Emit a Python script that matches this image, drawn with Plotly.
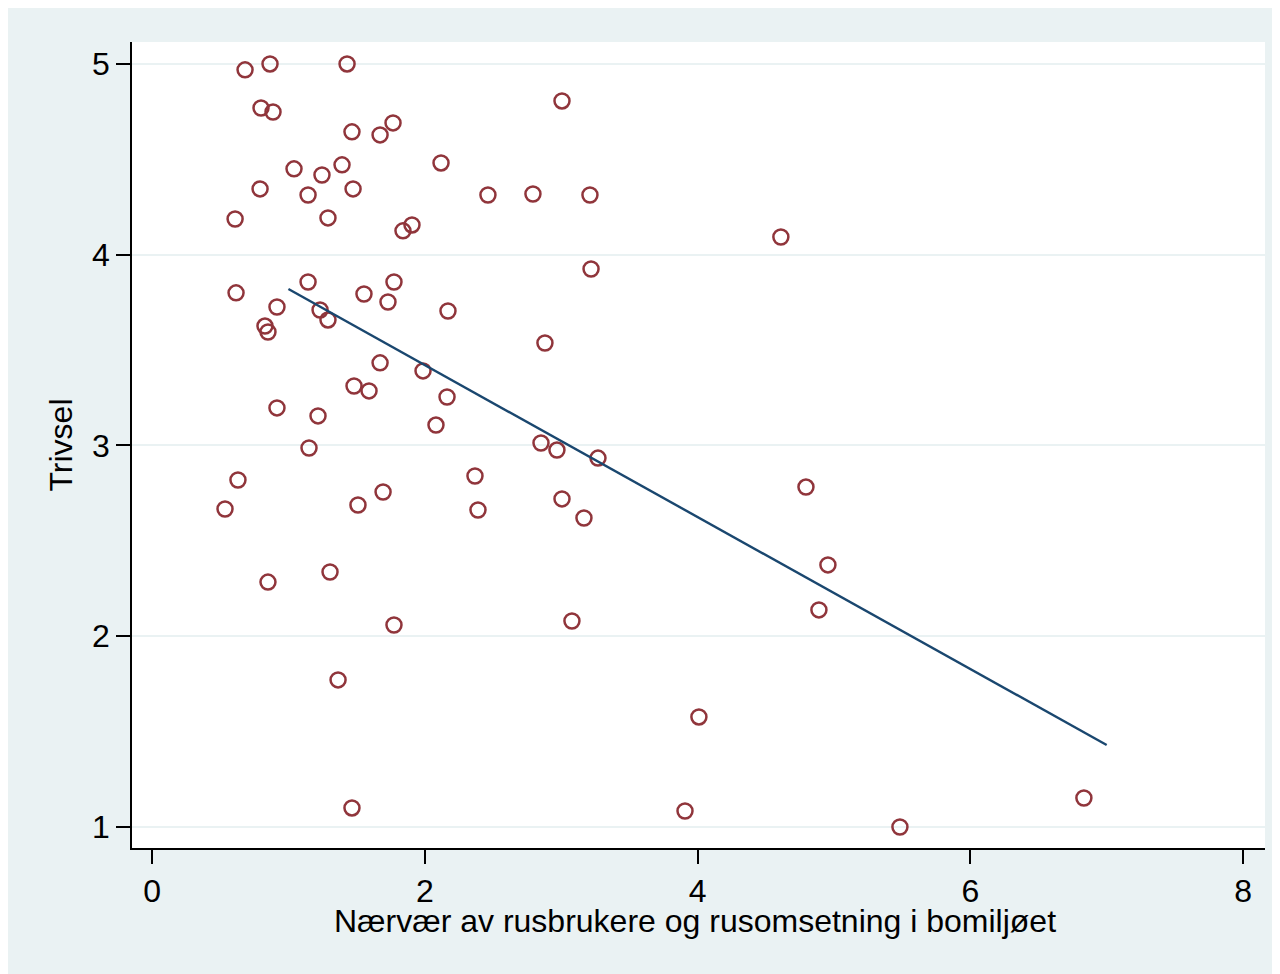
import plotly.graph_objects as go

# Scatter data: presence of drug users/dealing (x) vs wellbeing (y)
naervaer = [0.682, 0.865, 1.430, 0.799, 0.887, 3.006, 1.466, 1.672, 1.767, 2.119,
            1.041, 1.246, 1.393, 0.792, 1.144, 1.474, 2.463, 2.793, 3.211, 0.609,
            1.290, 1.840, 1.906, 4.611, 3.219, 1.144, 1.774, 0.616, 1.554, 1.730,
            0.916, 1.232, 2.170, 0.828, 0.850, 1.290, 2.881, 1.672, 1.987, 1.481,
            1.591, 2.163, 0.916, 1.217, 2.082, 1.151, 2.852, 2.969, 3.270, 0.630,
            2.368, 0.535, 1.694, 1.510, 2.390, 3.006, 3.167, 4.795, 4.956, 4.890,
            0.850, 1.305, 1.774, 3.079, 1.364, 4.010, 1.466, 3.908, 5.484, 6.833]
trivsel = [4.969, 5.000, 5.000, 4.769, 4.748, 4.806, 4.644, 4.628, 4.691, 4.481,
           4.450, 4.418, 4.471, 4.345, 4.313, 4.345, 4.313, 4.318, 4.313, 4.187,
           4.193, 4.125, 4.156, 4.093, 3.925, 3.857, 3.857, 3.800, 3.794, 3.752,
           3.726, 3.710, 3.705, 3.626, 3.595, 3.658, 3.537, 3.433, 3.391, 3.312,
           3.286, 3.254, 3.197, 3.155, 3.107, 2.987, 3.013, 2.976, 2.934, 2.819,
           2.840, 2.667, 2.756, 2.688, 2.662, 2.720, 2.620, 2.782, 2.374, 2.138,
           2.284, 2.337, 2.059, 2.080, 1.771, 1.577, 1.100, 1.084, 1.000, 1.152]

# Linear fit line
fit_x = [1.0, 7.0]
fit_y = [3.82, 1.43]

x_ticks = [0, 2, 4, 6, 8]
y_ticks = [1, 2, 3, 4, 5]

x_title = "Nærvær av rusbrukere og rusomsetning i bomiljøet"
y_title = "Trivsel"

BG = "#EAF2F3"
MAROON = "#90353B"
NAVY = "#1A476F"
FONT = "Liberation Sans"
FS = 32

fig = go.Figure()
fig.add_trace(go.Scatter(
    x=naervaer, y=trivsel, mode="markers",
    marker=dict(symbol="circle-open", size=15, color=MAROON,
                line=dict(width=2.5, color=MAROON)),
    showlegend=False, cliponaxis=False))
fig.add_trace(go.Scatter(
    x=fit_x, y=fit_y, mode="lines",
    line=dict(color=NAVY, width=2.4), showlegend=False))

fig.update_layout(
    width=1280, height=974,
    margin=dict(l=124, r=23, t=34, b=134, pad=0),
    paper_bgcolor=BG, plot_bgcolor="white",
    font=dict(family=FONT, size=FS, color="black"),
    xaxis=dict(range=[-0.147, 8.161], tickvals=x_ticks, ticks="outside",
               ticklen=14, tickwidth=1.5, tickcolor="black",
               showline=True, linecolor="black", linewidth=1.5, mirror=False,
               showgrid=False, zeroline=False,
               tickfont=dict(size=FS)),
    yaxis=dict(range=[0.890, 5.115], tickvals=y_ticks, ticks="outside",
               ticklen=14, tickwidth=1.5, tickcolor="black",
               showline=True, linecolor="black", linewidth=1.5, mirror=False,
               showgrid=True, gridcolor=BG, gridwidth=2, zeroline=False,
               title=dict(text=y_title, font=dict(size=FS), standoff=10),
               tickfont=dict(size=FS)),
    annotations=[dict(text=x_title, xref="paper", yref="paper",
                      x=0.497, y=-0.091, xanchor="center", yanchor="middle",
                      showarrow=False, font=dict(size=FS))],
)

fig.write_html("out.html")
